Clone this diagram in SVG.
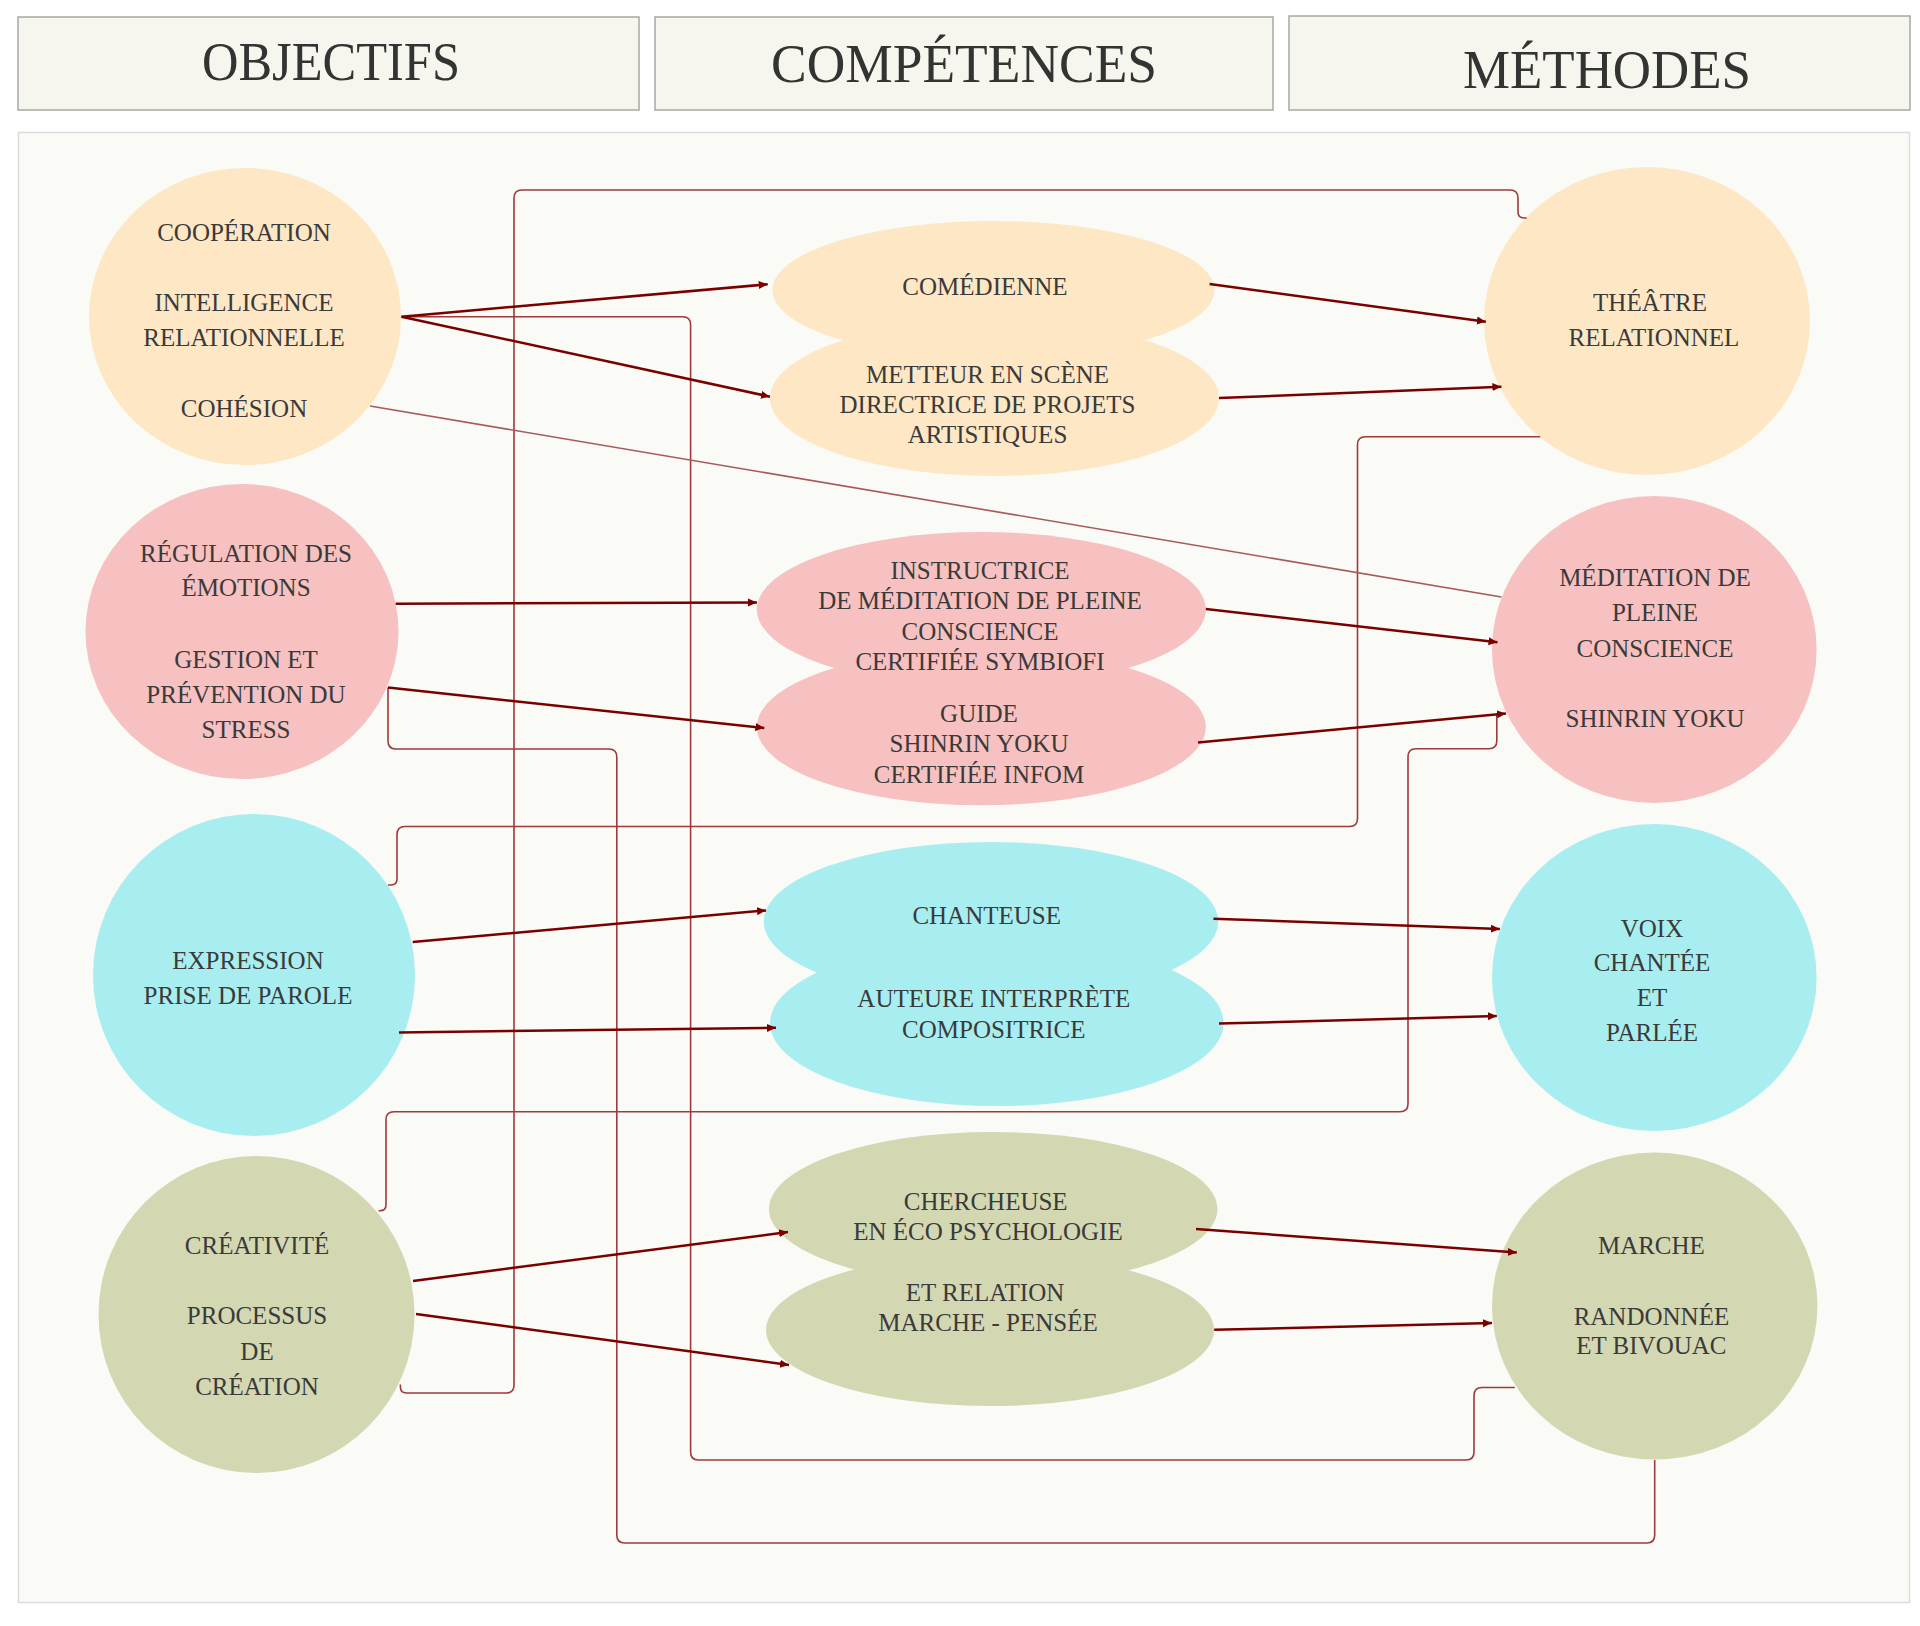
<svg xmlns="http://www.w3.org/2000/svg" width="1920" height="1626" viewBox="0 0 1920 1626">
<defs>
<style>
.hdr{fill:#f6f6ef;stroke:#a8a8a2;stroke-width:1.5}
.ht{font-family:"Liberation Serif",serif;font-size:54px;fill:#333;text-anchor:middle}
.t{font-family:"Liberation Serif",serif;font-size:25px;fill:#3a3a3a;text-anchor:middle}
.or{fill:#fee7c5}.pk{fill:#f6c1c0}.cy{fill:#a8eef0}.ol{fill:#d3d7b2}
.a{fill:none;stroke:#7a0000;stroke-width:2.5}
.o{fill:none;stroke:#9e3a3a;stroke-width:1.6}
.th{fill:none;stroke:#a85a5a;stroke-width:1.6}
</style>
<marker id="ah" markerUnits="userSpaceOnUse" markerWidth="10" markerHeight="10" refX="9" refY="5" orient="auto">
<path d="M0,1 L9,5 L0,9 Z" fill="#7a0000"/>
</marker>
</defs>
<rect width="1920" height="1626" fill="#ffffff"/>
<g id="headers">
<rect class="hdr" x="18" y="17" width="621" height="93"/>
<rect class="hdr" x="655" y="17" width="618" height="93"/>
<rect class="hdr" x="1289" y="16" width="621" height="94"/>
<text class="ht" x="331" y="80" textLength="258" lengthAdjust="spacingAndGlyphs">OBJECTIFS</text>
<text class="ht" x="964" y="82" textLength="386" lengthAdjust="spacingAndGlyphs">COMPÉTENCES</text>
<text class="ht" x="1607" y="88" textLength="288" lengthAdjust="spacingAndGlyphs">MÉTHODES</text>
</g>
<rect id="panel" x="18.5" y="132.5" width="1891" height="1470" fill="#fafaf6" stroke="#dcdcdc" stroke-width="1.5"/>

<g id="obj-cooperation">
<ellipse class="or" cx="245" cy="316.5" rx="156" ry="148.5"/>
<text class="t" x="244" y="241">COOPÉRATION</text>
<text class="t" x="244" y="311">INTELLIGENCE</text>
<text class="t" x="244" y="346">RELATIONNELLE</text>
<text class="t" x="244" y="417">COHÉSION</text>
</g>
<g id="obj-regulation">
<ellipse class="pk" cx="242" cy="631.5" rx="156.5" ry="147.5"/>
<text class="t" x="246" y="562">RÉGULATION DES</text>
<text class="t" x="246" y="596">ÉMOTIONS</text>
<text class="t" x="246" y="668">GESTION ET</text>
<text class="t" x="246" y="703">PRÉVENTION DU</text>
<text class="t" x="246" y="738">STRESS</text>
</g>
<g id="obj-expression">
<ellipse class="cy" cx="254" cy="975" rx="161" ry="161"/>
<text class="t" x="248" y="969">EXPRESSION</text>
<text class="t" x="248" y="1004">PRISE DE PAROLE</text>
</g>
<g id="obj-creativite">
<ellipse class="ol" cx="256.5" cy="1314.5" rx="158" ry="158.5"/>
<text class="t" x="257" y="1254">CRÉATIVITÉ</text>
<text class="t" x="257" y="1324">PROCESSUS</text>
<text class="t" x="257" y="1360">DE</text>
<text class="t" x="257" y="1395">CRÉATION</text>
</g>

<g id="comp-theatre">
<ellipse class="or" cx="993.4" cy="290" rx="221" ry="69"/>
<ellipse class="or" cx="994.5" cy="398" rx="224.5" ry="78"/>
<text class="t" x="985" y="295">COMÉDIENNE</text>
<text class="t" x="987.5" y="383">METTEUR EN SCÈNE</text>
<text class="t" x="987.5" y="413">DIRECTRICE DE PROJETS</text>
<text class="t" x="987.5" y="443">ARTISTIQUES</text>
</g>
<g id="comp-meditation">
<ellipse class="pk" cx="981.3" cy="609.5" rx="224.5" ry="77.5"/>
<ellipse class="pk" cx="981.3" cy="727" rx="224.5" ry="78.3"/>
<text class="t" x="980" y="579">INSTRUCTRICE</text>
<text class="t" x="980" y="609">DE MÉDITATION DE PLEINE</text>
<text class="t" x="980" y="640">CONSCIENCE</text>
<text class="t" x="980" y="670">CERTIFIÉE SYMBIOFI</text>
<text class="t" x="979" y="722">GUIDE</text>
<text class="t" x="979" y="752">SHINRIN YOKU</text>
<text class="t" x="979" y="783">CERTIFIÉE INFOM</text>
</g>
<g id="comp-voix">
<ellipse class="cy" cx="991" cy="921.5" rx="227.2" ry="79.5"/>
<ellipse class="cy" cx="996.8" cy="1023" rx="226.8" ry="83"/>
<text class="t" x="986.7" y="924">CHANTEUSE</text>
<text class="t" x="993.8" y="1007">AUTEURE INTERPRÈTE</text>
<text class="t" x="993.8" y="1038">COMPOSITRICE</text>
</g>
<g id="comp-marche">
<ellipse class="ol" cx="993.2" cy="1209" rx="224.2" ry="77"/>
<ellipse class="ol" cx="990" cy="1330" rx="224" ry="76"/>
<text class="t" x="985.7" y="1210">CHERCHEUSE</text>
<text class="t" x="988" y="1240">EN ÉCO PSYCHOLOGIE</text>
<text class="t" x="985" y="1301">ET  RELATION</text>
<text class="t" x="988" y="1331">MARCHE - PENSÉE</text>
</g>

<g id="meth-theatre">
<ellipse class="or" cx="1647" cy="321" rx="163" ry="154"/>
<text class="t" x="1650" y="311">THÉÂTRE</text>
<text class="t" x="1654" y="346">RELATIONNEL</text>
</g>
<g id="meth-meditation">
<ellipse class="pk" cx="1654.3" cy="649.5" rx="162.3" ry="153.5"/>
<text class="t" x="1655" y="586">MÉDITATION DE</text>
<text class="t" x="1655" y="621">PLEINE</text>
<text class="t" x="1655" y="657">CONSCIENCE</text>
<text class="t" x="1655" y="727">SHINRIN  YOKU</text>
</g>
<g id="meth-voix">
<ellipse class="cy" cx="1654.3" cy="977.5" rx="162.3" ry="153.5"/>
<text class="t" x="1652" y="937">VOIX</text>
<text class="t" x="1652" y="971">CHANTÉE</text>
<text class="t" x="1652" y="1006">ET</text>
<text class="t" x="1652" y="1041">PARLÉE</text>
</g>
<g id="meth-marche">
<ellipse class="ol" cx="1654.7" cy="1306" rx="162.7" ry="153.5"/>
<text class="t" x="1651.4" y="1254">MARCHE</text>
<text class="t" x="1651.4" y="1325">RANDONNÉE</text>
<text class="t" x="1651.4" y="1354">ET BIVOUAC</text>
</g>

<g id="connectors">
<path class="o" d="M400.4,1384.6 V1387 q0,6 6,6 H506 q8,0 8,-8 V198 q0,-8 8,-8 H1510 q8,0 8,8 V212 q0,6 6,6 H1526.7"/>
<path class="o" d="M401.5,316.7 H682.6 q8,0 8,8 V1452 q0,8 8,8 H1466 q8,0 8,-8 V1395.5 q0,-8 8,-8 H1514.8"/>
<path class="o" d="M388,687.6 V741 q0,8 8,8 H608.8 q8,0 8,8 V1535 q0,8 8,8 H1646.7 q8,0 8,-8 V1460"/>
<path class="o" d="M388,885 H391 q6,0 6,-6 V834.5 q0,-8 8,-8 H1349.5 q8,0 8,-8 V444.7 q0,-8 8,-8 H1540.3"/>
<path class="o" d="M378.6,1210.7 H380 q6,0 6,-6 V1119.7 q0,-8 8,-8 H1400 q8,0 8,-8 V756.8 q0,-8 8,-8 H1488.8 q8,0 8,-8 V713.5"/>
<path class="th" d="M370,406 L1501.4,597"/>
<path class="a" marker-end="url(#ah)" d="M401.5,316.7 L767.7,284.3"/>
<path class="a" marker-end="url(#ah)" d="M401.5,316.7 L770,396.7"/>
<path class="a" marker-end="url(#ah)" d="M1209.6,284 L1485.9,321.7"/>
<path class="a" marker-end="url(#ah)" d="M1219,398 L1501.4,386.7"/>
<path class="a" marker-end="url(#ah)" d="M395.7,603.7 L757,602.5"/>
<path class="a" marker-end="url(#ah)" d="M388,687.6 L764.3,728"/>
<path class="a" marker-end="url(#ah)" d="M1205.8,609 L1497.5,642.2"/>
<path class="a" marker-end="url(#ah)" d="M1198,742.5 L1506,713.5"/>
<path class="a" marker-end="url(#ah)" d="M412.7,942 L766,910.4"/>
<path class="a" marker-end="url(#ah)" d="M399,1032.4 L776,1027.8"/>
<path class="a" marker-end="url(#ah)" d="M1213.5,918.7 L1499.9,929"/>
<path class="a" marker-end="url(#ah)" d="M1219,1023.6 L1496.8,1016"/>
<path class="a" marker-end="url(#ah)" d="M413,1281 L788,1232"/>
<path class="a" marker-end="url(#ah)" d="M416,1314 L789,1365"/>
<path class="a" marker-end="url(#ah)" d="M1196,1229 L1516.8,1252.6"/>
<path class="a" marker-end="url(#ah)" d="M1214.2,1329.8 L1492,1323"/>
</g>
</svg>
